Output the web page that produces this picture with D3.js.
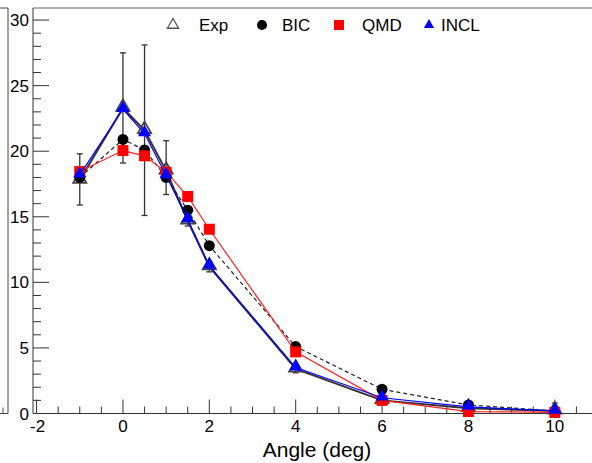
<!DOCTYPE html>
<html>
<head>
<meta charset="utf-8">
<script src="https://cdn.jsdelivr.net/npm/d3@7.9.0/dist/d3.min.js"></script>
<style>
  body { margin: 0; background: #fff; }
  svg { display: block; font-family: "Liberation Sans", Arial, sans-serif; }
</style>
</head>
<body>
<div id="chart"></div>
<script>
// angles (deg) where the points sit
const angles = [-1, 0, 0.5, 1, 1.5, 2, 4, 6, 8, 10];

// experiment with its error bar ends
const expValues = [17.8, 23.3, 21.6, 18.5, 14.7, 11.2, 3.4, 1.0, 0.4, 0.2];
const expErrHigh = [19.8, 27.5, 28.1, 20.8, 15.1, 11.6, 3.7, 1.2, 0.6, 0.8];
const expErrLow = [15.9, 19.1, 15.1, 16.7, 14.3, 10.8, 3.1, 0.8, 0.2, 0.0];

// models
const bicValues = [18.0, 20.9, 20.1, 18.0, 15.5, 12.8, 5.1, 1.85, 0.65, 0.2];
const qmdValues = [18.45, 20.05, 19.65, 18.4, 16.55, 14.05, 4.7, 1.0, 0.15, 0.08];
const inclValues = [18.2, 23.2, 21.35, 18.15, 14.8, 11.25, 3.5, 1.2, 0.5, 0.2];

const xTicks = [-2, 0, 2, 4, 6, 8, 10];
const yTicks = [0, 5, 10, 15, 20, 25, 30];
const legendLabels = ["Exp", "BIC", "QMD", "INCL"];

const CONFIG = {
  WIDTH: 592,
  HEIGHT: 463,
  LEFT: 33,
  RIGHT: 598,
  TOP: 8,
  BOTTOM: 413.5
};

const svg = d3.select("#chart").append("svg")
  .attr("width", CONFIG.WIDTH)
  .attr("height", CONFIG.HEIGHT);

const xScale = d3.scaleLinear().domain([-2.083, 11]).range([CONFIG.LEFT, CONFIG.RIGHT]);
const yScale = d3.scaleLinear().domain([0, 30.92]).range([CONFIG.BOTTOM, CONFIG.TOP]);

// edge of the neighbouring pad on the left
svg.append("path")
  .attr("d", `M0,${CONFIG.TOP}H8V${CONFIG.BOTTOM}H0M3,${CONFIG.BOTTOM}V${CONFIG.BOTTOM - 6}`)
  .attr("fill", "none")
  .attr("stroke", "#444")
  .attr("stroke-width", 1);

// frame top
svg.append("line")
  .attr("x1", CONFIG.LEFT).attr("x2", CONFIG.WIDTH)
  .attr("y1", CONFIG.TOP).attr("y2", CONFIG.TOP)
  .attr("stroke", "#666");

// axes
const xAxis = svg.append("g").attr("class", "x-axis");
xAxis.append("line")
  .attr("x1", CONFIG.LEFT).attr("x2", CONFIG.WIDTH)
  .attr("y1", CONFIG.BOTTOM).attr("y2", CONFIG.BOTTOM)
  .attr("stroke", "#333");
xAxis.selectAll(".minor")
  .data(d3.range(-2, 11.01, 0.5))
  .join("line")
  .attr("x1", d => xScale(d)).attr("x2", d => xScale(d))
  .attr("y1", CONFIG.BOTTOM)
  .attr("y2", d => CONFIG.BOTTOM - (d % 2 === 0 ? 14 : 7))
  .attr("stroke", "#333");
xAxis.selectAll("text")
  .data(xTicks)
  .join("text")
  .attr("x", d => xScale(d) + (d < 0 ? 1 : 0))
  .attr("y", 432)
  .attr("text-anchor", "middle")
  .attr("font-size", 17)
  .text(d => d);

const yAxis = svg.append("g").attr("class", "y-axis");
yAxis.append("line")
  .attr("x1", CONFIG.LEFT).attr("x2", CONFIG.LEFT)
  .attr("y1", CONFIG.TOP).attr("y2", CONFIG.BOTTOM)
  .attr("stroke", "#333");
yAxis.selectAll(".tick")
  .data(d3.range(0, 31, 1))
  .join("line")
  .attr("x1", CONFIG.LEFT)
  .attr("x2", d => CONFIG.LEFT + (d % 5 === 0 ? 16 : 8))
  .attr("y1", d => yScale(d)).attr("y2", d => yScale(d))
  .attr("stroke", "#333");
yAxis.selectAll("text")
  .data(yTicks)
  .join("text")
  .attr("x", 29)
  .attr("y", d => yScale(d) + 6)
  .attr("text-anchor", "end")
  .attr("font-size", 17)
  .text(d => d);

svg.append("text")
  .attr("x", 317)
  .attr("y", 457)
  .attr("text-anchor", "middle")
  .attr("font-size", 21)
  .text("Angle (deg)");

const line = d3.line()
  .x((d, i) => xScale(angles[i]))
  .y(d => yScale(d));

const triUp = d3.symbol().type(d3.symbolTriangle);
const circle = d3.symbol().type(d3.symbolCircle);
const square = d3.symbol().type(d3.symbolSquare);

// experiment: error bars, line, open triangles
const errs = svg.append("g");
angles.forEach((a, i) => {
  const x = xScale(a);
  errs.append("line")
    .attr("x1", x).attr("x2", x)
    .attr("y1", yScale(expErrLow[i])).attr("y2", yScale(expErrHigh[i]))
    .attr("stroke", "#333").attr("stroke-width", 1.3);
  [expErrLow[i], expErrHigh[i]].forEach(v => {
    errs.append("line")
      .attr("x1", x - 3).attr("x2", x + 3)
      .attr("y1", yScale(v)).attr("y2", yScale(v))
      .attr("stroke", "#333").attr("stroke-width", 1.3);
  });
});

svg.append("path")
  .datum(expValues)
  .attr("d", line)
  .attr("fill", "none")
  .attr("stroke", "#333")
  .attr("stroke-width", 2);

svg.selectAll(".exp-pt")
  .data(expValues)
  .join("path")
  .attr("class", "exp-pt")
  .attr("transform", (d, i) => `translate(${xScale(angles[i])},${yScale(d) - 1})`)
  .attr("d", triUp.size(75)())
  .attr("fill", "none")
  .attr("stroke", "#444")
  .attr("stroke-width", 1.8);

// BIC
svg.append("path")
  .datum(bicValues)
  .attr("d", line)
  .attr("fill", "none")
  .attr("stroke", "#222")
  .attr("stroke-width", 1.2)
  .attr("stroke-dasharray", "4,3");
svg.selectAll(".bic-pt")
  .data(bicValues)
  .join("path")
  .attr("class", "bic-pt")
  .attr("transform", (d, i) => `translate(${xScale(angles[i])},${yScale(d)})`)
  .attr("d", circle.size(95)())
  .attr("fill", "#000");

// QMD
svg.append("path")
  .datum(qmdValues)
  .attr("d", line)
  .attr("fill", "none")
  .attr("stroke", "#ff2020")
  .attr("stroke-width", 1.2);
svg.selectAll(".qmd-pt")
  .data(qmdValues)
  .join("path")
  .attr("class", "qmd-pt")
  .attr("transform", (d, i) => `translate(${xScale(angles[i])},${yScale(d)})`)
  .attr("d", square.size(121)())
  .attr("fill", "#ff0000");

// INCL
svg.append("path")
  .datum(inclValues)
  .attr("d", line)
  .attr("fill", "none")
  .attr("stroke", "#0000ff")
  .attr("stroke-width", 1.2);
svg.selectAll(".incl-pt")
  .data(inclValues)
  .join("path")
  .attr("class", "incl-pt")
  .attr("transform", (d, i) => `translate(${xScale(angles[i])},${yScale(d) - 1})`)
  .attr("d", triUp.size(75)())
  .attr("fill", "#0000ff");

// legend
const legendItems = [
  { x: 173, tx: 199, sym: triUp.size(55)(), fill: "none", stroke: "#555" },
  { x: 262, tx: 282, sym: circle.size(80)(), fill: "#000", stroke: "none" },
  { x: 339, tx: 362, sym: square.size(100)(), fill: "#ff0000", stroke: "none" },
  { x: 429, tx: 441, sym: triUp.size(45)(), fill: "#0000ff", stroke: "none" }
];
const legend = svg.append("g").attr("class", "legend");
legendItems.forEach((item, i) => {
  legend.append("path")
    .attr("transform", `translate(${item.x},25)`)
    .attr("d", item.sym)
    .attr("fill", item.fill)
    .attr("stroke", item.stroke)
    .attr("stroke-width", 1.3);
  legend.append("text")
    .attr("x", item.tx)
    .attr("y", 31)
    .attr("font-size", 17)
    .text(legendLabels[i]);
});
</script>
</body>
</html>
